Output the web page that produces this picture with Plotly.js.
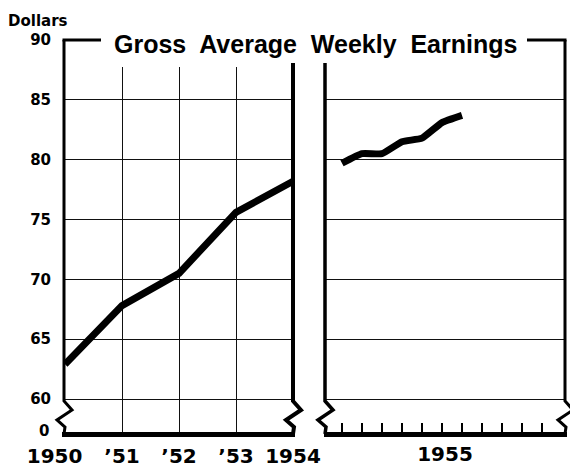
<!DOCTYPE html>
<html>
<head>
<meta charset="utf-8">
<script src="https://cdn.plot.ly/plotly-3.0.1.min.js"></script>
<style>html,body{margin:0;padding:0;background:#fff;}#chart{width:570px;height:469px;}</style>
</head>
<body>
<div id="chart"></div>
<script>
// ---- data ----
const annualYears = [1950, 1951, 1952, 1953, 1954];
const annualTickText = ['1950\u00a0\u00a0\u00a0', "\u201951", "\u201952", "\u201953", '1954'];
const annualEarnings = [62.9, 67.8, 70.5, 75.6, 78.2];

const allMonths1955 = ['Jan','Feb','Mar','Apr','May','Jun','Jul','Aug','Sep','Oct','Nov','Dec'];
const months1955 = ['Jan','Feb','Mar','Apr','May','Jun','Jul'];
const monthlyEarnings1955 = [79.7, 80.5, 80.5, 81.5, 81.8, 83.1, 83.7];

const yTickValues = [60, 65, 70, 75, 80, 85, 90];
const yTickText = ['60', '65', '70', '75', '80', '85', '90'];

// ---- layout helpers (pixel -> paper) ----
const W = 570, H = 469;
const px = x => x / W;
const py = y => 1 - y / H;
const FONT = 'DejaVu Sans';
const TITLE_FONT = 'Liberation Sans';

function lineShape(x0, y0, x1, y1, w) {
  return {type: 'line', xref: 'paper', yref: 'paper', x0: px(x0), y0: py(y0), x1: px(x1), y1: py(y1),
          line: {color: '#000', width: w}, layer: 'above'};
}
function pathShape(points, w) {
  const d = points.map((p, i) => (i ? 'L' : 'M') + px(p[0]) + ',' + py(p[1])).join(' ');
  return {type: 'path', xref: 'paper', yref: 'paper', path: d, line: {color: '#000', width: w}, layer: 'above'};
}
function borderWithBreak(x, top, w) {
  return pathShape([[x, top], [x, 401], [x + 8, 410], [x - 7, 420], [x + 1, 427], [x, 434]], w);
}

const traces = [
  {x: annualYears, y: annualEarnings, xaxis: 'x', yaxis: 'y', mode: 'lines',
   line: {color: '#000', width: 7}, hoverinfo: 'skip'},
  {x: months1955, y: monthlyEarnings1955, xaxis: 'x2', yaxis: 'y', mode: 'lines',
   line: {color: '#000', width: 7, shape: 'spline', smoothing: 0.4}, hoverinfo: 'skip'}
];

const layout = {
  width: W, height: H,
  margin: {l: 0, r: 0, t: 0, b: 0},
  paper_bgcolor: '#fff', plot_bgcolor: '#fff',
  showlegend: false,
  xaxis: {
    domain: [px(65), px(293)], range: [1950, 1954], anchor: 'y',
    tickvals: annualYears, ticktext: annualTickText, tickangle: 0,
    showgrid: true, gridcolor: '#111', gridwidth: 1,
    zeroline: false, showline: false, ticks: '',
    ticklabelstandoff: 6,
    tickfont: {family: FONT, size: 20, color: '#000', weight: 'bold'}
  },
  xaxis2: {
    domain: [px(325), px(565)], type: 'category', categoryarray: allMonths1955, categoryorder: 'array',
    range: [-0.85, 11.15], anchor: 'y',
    tickvals: allMonths1955.slice(0, 11),
    showticklabels: false, showgrid: false, zeroline: false, showline: false,
    ticks: 'inside', ticklen: 13, tickwidth: 2, tickcolor: '#000',
    title: {text: '1955', standoff: 10, font: {family: FONT, size: 20, color: '#000', weight: 'bold'}}
  },
  yaxis: {
    domain: [py(436), py(40)], range: [60 - 37 / 11.967, 90], anchor: 'x',
    tickvals: yTickValues, ticktext: yTickText,
    showgrid: true, gridcolor: '#111', gridwidth: 1,
    zeroline: false, showline: false, ticks: '',
    ticklabelstandoff: 13,
    tickfont: {family: FONT, size: 15, color: '#000', weight: 'bold'}
  },
  shapes: [
    // white band hiding grid tops under the title frame
    {type: 'rect', xref: 'paper', yref: 'paper', x0: px(66), x1: px(564), y0: py(67), y1: py(34),
     fillcolor: '#fff', line: {width: 0}, layer: 'above'},
    // panel borders with axis breaks
    borderWithBreak(64, 40, 3),
    borderWithBreak(293, 63, 4),
    borderWithBreak(325, 63, 3.5),
    borderWithBreak(565, 40, 3),
    // bottom baselines
    lineShape(62, 434.5, 295, 434.5, 5),
    lineShape(324, 434.5, 567, 434.5, 5),
    // title frame
    lineShape(62.5, 40, 101, 40, 3),
    lineShape(527, 40, 566.5, 40, 3)
  ],
  annotations: [
    {text: 'Dollars', xref: 'paper', yref: 'paper', x: px(6), y: py(21), xanchor: 'left', yanchor: 'middle',
     showarrow: false, font: {family: FONT, size: 15, color: '#000', weight: 'bold'}},
    {text: 'Gross&nbsp; Average&nbsp; Weekly&nbsp; Earnings', xref: 'paper', yref: 'paper', x: px(316), y: py(44),
     xanchor: 'center', yanchor: 'middle', showarrow: false,
     font: {family: TITLE_FONT, size: 25, color: '#000', weight: 'bold'}},
    {text: '0', xref: 'paper', yref: 'paper', x: px(51), y: py(431), xanchor: 'right', yanchor: 'middle',
     showarrow: false, font: {family: FONT, size: 15, color: '#000', weight: 'bold'}}
  ]
};

Plotly.newPlot('chart', traces, layout, {staticPlot: true, displayModeBar: false});
</script>
</body>
</html>
